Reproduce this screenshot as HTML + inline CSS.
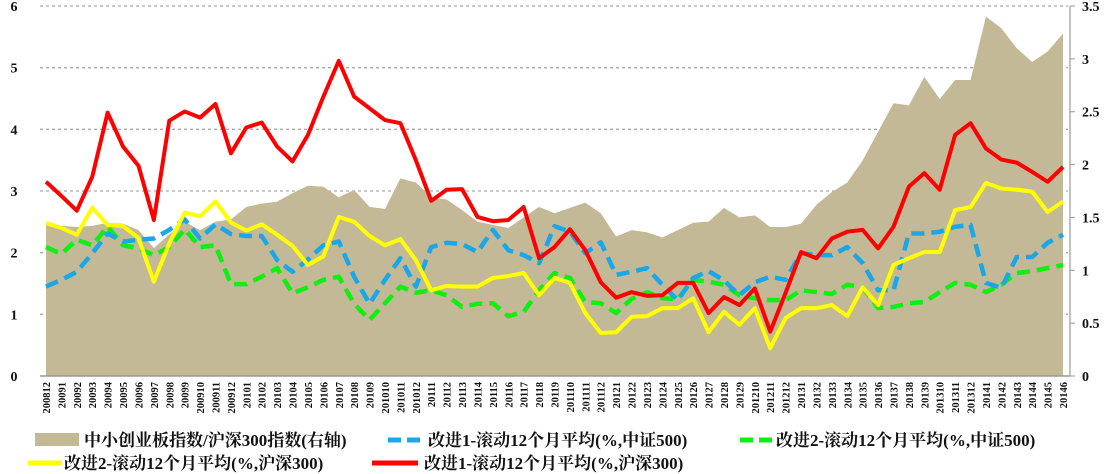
<!DOCTYPE html>
<html><head><meta charset="utf-8"><style>
html,body{margin:0;padding:0;background:#fff;width:1116px;height:474px;overflow:hidden}
svg text{font-family:"Liberation Serif","Noto Serif CJK SC",serif;font-weight:bold;fill:#111}
</style></head><body>
<svg id="chart" width="1116" height="474" viewBox="0 0 1116 474" xmlns="http://www.w3.org/2000/svg">
<g id="grid"></g>
<g id="area"></g>
<g id="lines"></g>
<g id="axes"></g>
<g id="legend">
  <rect x="35" y="433" width="44" height="13" fill="#c4b996"/>
  <text x="84" y="446" font-size="17">中小创业板指数/沪深300指数(右轴)</text>
  <line x1="388" y1="440" x2="422" y2="440" stroke="#1aa7e8" stroke-width="5" stroke-dasharray="13,6"/>
  <text x="428" y="446" font-size="17">改进1-滚动12个月平均(%,中证500)</text>
  <line x1="740" y1="440" x2="772" y2="440" stroke="#11ee11" stroke-width="5" stroke-dasharray="13,6"/>
  <text x="776" y="446" font-size="17">改进2-滚动12个月平均(%,中证500)</text>
  <line x1="28" y1="463" x2="62" y2="463" stroke="#ffff00" stroke-width="5"/>
  <text x="64" y="469" font-size="17">改进2-滚动12个月平均(%,沪深300)</text>
  <line x1="372" y1="463" x2="418" y2="463" stroke="#ff0000" stroke-width="5"/>
  <text x="424" y="469" font-size="17">改进1-滚动12个月平均(%,沪深300)</text>
</g>
</svg>
<script>
const categories=["200812","20091","20092","20093","20094","20095","20096","20097","20098","20099","200910","200911","200912","20101","20102","20103","20104","20105","20106","20107","20108","20109","201010","201011","201012","20111","20112","20113","20114","20115","20116","20117","20118","20119","201110","201111","201112","20121","20122","20123","20124","20125","20126","20127","20128","20129","201210","201211","201212","20131","20132","20133","20134","20135","20136","20137","20138","20139","201310","201311","201312","20141","20142","20143","20144","20145","20146"];
const ratioArea=[1.45,1.42,1.41,1.42,1.45,1.44,1.38,1.21,1.34,1.46,1.38,1.46,1.48,1.6,1.63,1.65,1.73,1.8,1.79,1.69,1.76,1.6,1.58,1.87,1.83,1.69,1.67,1.57,1.46,1.43,1.4,1.5,1.6,1.54,1.59,1.64,1.54,1.32,1.38,1.36,1.31,1.38,1.45,1.46,1.59,1.5,1.52,1.41,1.41,1.44,1.62,1.74,1.83,2.04,2.31,2.58,2.56,2.83,2.62,2.8,2.8,3.4,3.29,3.1,2.97,3.07,3.24];
const redSeries=[3.15,2.92,2.68,3.23,4.27,3.72,3.41,2.53,4.14,4.29,4.19,4.41,3.61,4.03,4.11,3.72,3.48,3.91,4.53,5.11,4.53,4.34,4.15,4.1,3.5,2.84,3.02,3.03,2.58,2.51,2.53,2.74,1.91,2.09,2.38,2.04,1.52,1.27,1.36,1.3,1.31,1.51,1.51,1.02,1.28,1.15,1.42,0.72,1.35,2.01,1.91,2.23,2.34,2.37,2.07,2.42,3.07,3.29,3.02,3.91,4.1,3.69,3.51,3.46,3.31,3.15,3.39];
const yellowSeries=[2.48,2.4,2.29,2.73,2.45,2.43,2.24,1.53,2.15,2.65,2.59,2.83,2.49,2.36,2.46,2.29,2.11,1.8,1.94,2.58,2.5,2.27,2.12,2.22,1.88,1.39,1.46,1.45,1.45,1.59,1.62,1.67,1.31,1.59,1.51,1.02,0.7,0.71,0.96,0.97,1.1,1.1,1.26,0.71,1.04,0.83,1.1,0.45,0.94,1.1,1.1,1.15,0.97,1.44,1.15,1.8,1.91,2.01,2.01,2.69,2.74,3.13,3.04,3.02,2.99,2.66,2.83];
const blueSeries=[1.45,1.56,1.69,1.99,2.31,2.18,2.21,2.23,2.37,2.54,2.23,2.46,2.3,2.27,2.27,1.88,1.69,1.89,2.12,2.18,1.61,1.17,1.56,1.91,1.45,2.09,2.16,2.14,2.01,2.37,2.04,1.96,1.83,2.43,2.34,1.99,2.17,1.64,1.69,1.75,1.48,1.23,1.59,1.7,1.55,1.31,1.52,1.61,1.56,1.99,1.96,1.96,2.09,1.83,1.39,1.39,2.31,2.31,2.34,2.42,2.45,1.51,1.43,1.93,1.93,2.16,2.29];
const greenSeries=[2.09,1.98,2.21,2.12,2.42,2.12,2.07,1.96,2.09,2.38,2.09,2.12,1.49,1.49,1.61,1.75,1.34,1.44,1.56,1.61,1.17,0.91,1.18,1.45,1.35,1.39,1.31,1.12,1.17,1.18,0.97,1.04,1.39,1.67,1.59,1.2,1.18,1.02,1.25,1.36,1.26,1.25,1.56,1.53,1.48,1.31,1.26,1.23,1.23,1.39,1.36,1.33,1.48,1.44,1.1,1.12,1.18,1.2,1.36,1.51,1.48,1.36,1.48,1.67,1.7,1.75,1.8];
const leftTicks=[0,1,2,3,4,5,6];
const rightTicks=[0,0.5,1,1.5,2,2.5,3,3.5];

const NS="http://www.w3.org/2000/svg";
const X0=46,X1=1063,Y0=376,YT=6;
function xs(i){return X0+i*(X1-X0)/(categories.length-1);}
function yl(v){return Y0-(Y0-YT)*v/6;}
function yr(v){return Y0-(Y0-YT)*v/3.5;}
function mk(tag,attrs,parent){const e=document.createElementNS(NS,tag);for(const k in attrs)e.setAttribute(k,attrs[k]);parent.appendChild(e);return e;}
const grid=document.getElementById('grid'),area=document.getElementById('area'),lines=document.getElementById('lines'),axes=document.getElementById('axes');

leftTicks.forEach(v=>{
  if(v>0){const g=mk('line',{x1:40,x2:1068,y1:yl(v),y2:yl(v),stroke:'#aaa','stroke-width':1.3,'stroke-dasharray':'3,3'},grid);
  
  }
  const t=mk('text',{x:14,y:yl(v)+5,'font-size':14,'text-anchor':'middle'},axes);t.textContent=v;
  
  
});
rightTicks.forEach(v=>{
  const tk=mk('line',{x1:1070,x2:1075,y1:yr(v),y2:yr(v),stroke:'#999'},axes);
  
  
  const t=mk('text',{x:1082,y:yr(v)+5,'font-size':14},axes);t.textContent=v;
  
  
});
let d='M'+xs(0)+','+Y0;
ratioArea.forEach((v,i)=>{d+=' L'+xs(i)+','+yr(v);});
d+=' L'+xs(ratioArea.length-1)+','+Y0+' Z';
const ap=mk('path',{d:d,fill:'#c4b996'},area);



const bl=mk('line',{x1:40,x2:1070,y1:Y0,y2:Y0,stroke:'#999','stroke-width':1.5},axes);


const rl=mk('line',{x1:1070,x2:1070,y1:YT,y2:Y0,stroke:'#999','stroke-width':1.2},axes);



function drawLine(arr,color,dash,name){
  const p=mk('polyline',{points:arr.map((v,i)=>xs(i)+','+yl(v)).join(' '),fill:'none',stroke:color,'stroke-width':dash?4.5:4,'stroke-linejoin':'round'},lines);
  if(dash)p.setAttribute('stroke-dasharray','13,7');
  
  
}
drawLine(greenSeries,'#11ee11',true,'green-series-line');
drawLine(blueSeries,'#1aa7e8',true,'blue-series-line');
drawLine(yellowSeries,'#ffff00',false,'yellow-series-line');
drawLine(redSeries,'#ff0000',false,'red-series-line');

categories.forEach((c,i)=>{
  const t=mk('text',{x:0,y:0,'font-size':10.5,'text-anchor':'end',transform:'translate('+(xs(i)+4)+',382) rotate(-90)'},axes);
  t.textContent=c;
  
  
});
</script>
</body></html>
